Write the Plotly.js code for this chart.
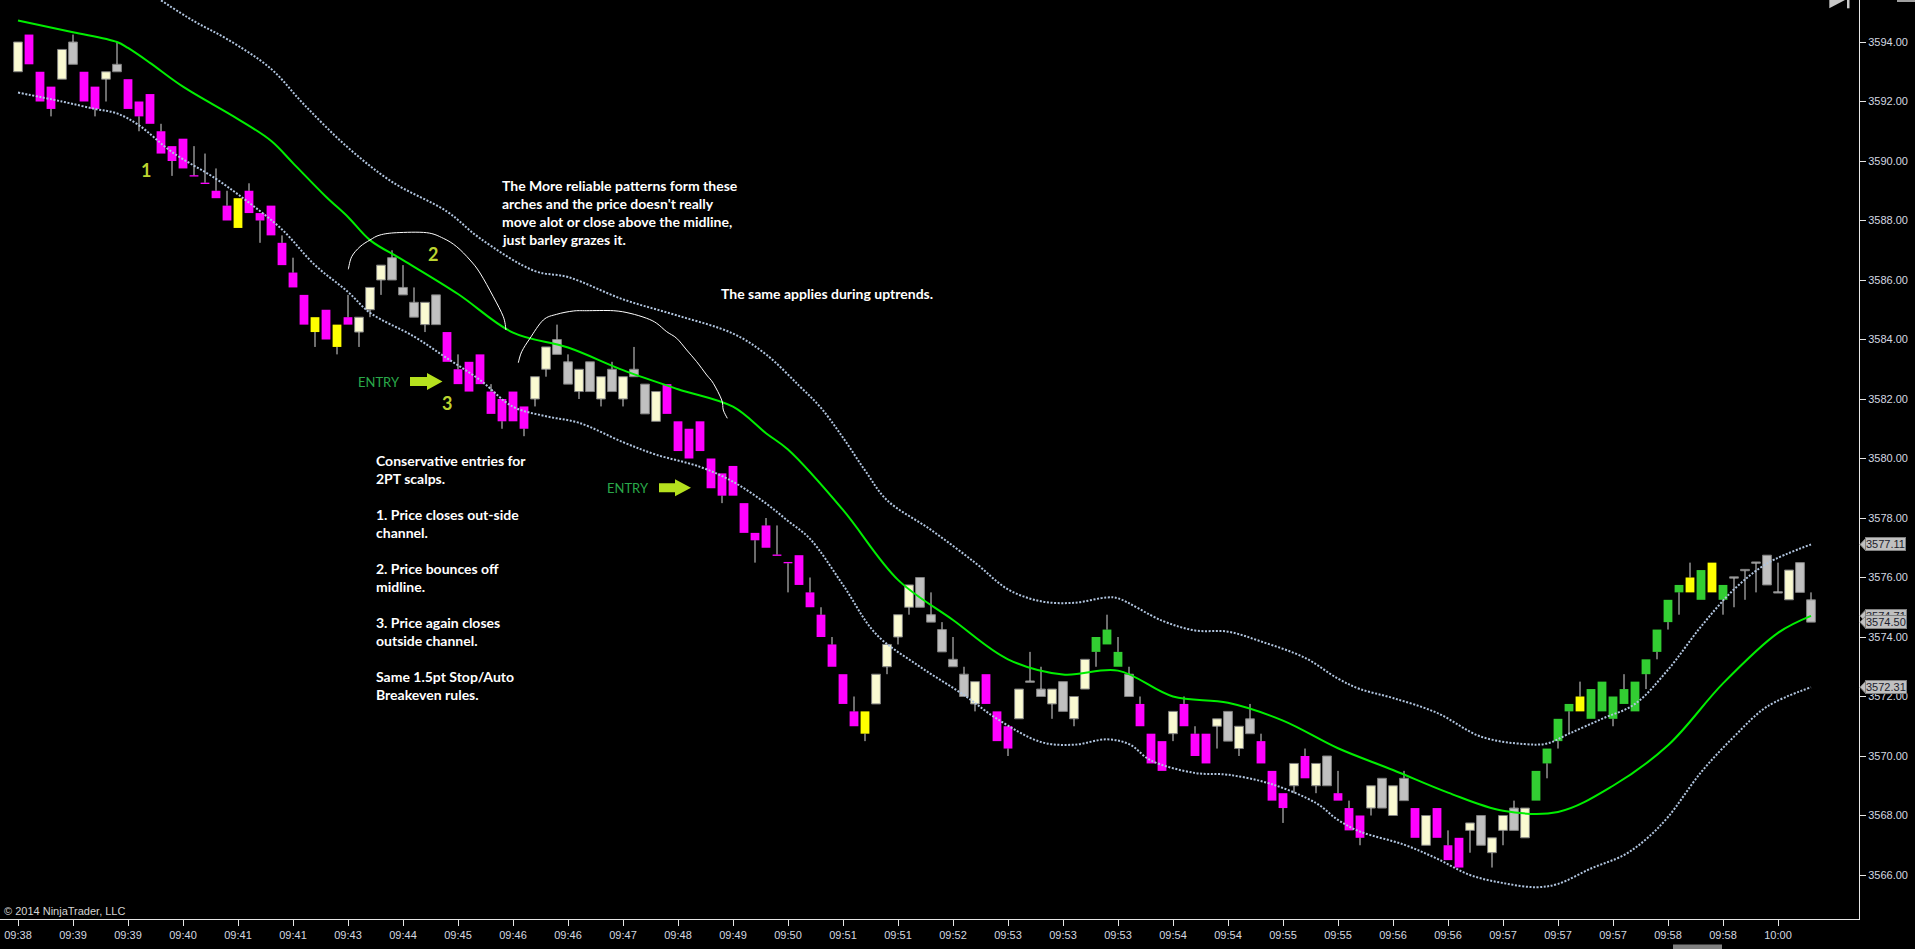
<!DOCTYPE html>
<html><head><meta charset="utf-8">
<script src="https://cdn.plot.ly/plotly-3.0.1.min.js"></script>
<style>html,body{margin:0;padding:0;background:#000;overflow:hidden}#chart{width:1915px;height:949px}</style>
</head><body><div id="chart"></div>
<script>
// ---------- DATA ----------
const open = [
3593.0,3594.25,3593.0,3592.5,3592.75,3594.0,3593.0,3592.5,3592.75,3593.25,
3592.75,3592.0,3592.25,3591.0,3590.5,3590.75,3589.5,3589.25,3589.0,3588.5,
3588.75,3589.0,3588.25,3588.5,3587.25,3586.25,3585.5,3584.75,3585.0,3584.5,
3584.75,3584.25,3585.0,3586.0,3586.75,3585.75,3585.25,3584.5,3585.5,3584.25,
3583.0,3583.25,3583.5,3582.25,3582.0,3582.25,3581.75,3582.0,3583.0,3584.0,
3583.25,3582.25,3583.25,3582.0,3583.0,3582.0,3583.0,3582.5,3581.25,3582.5,
3581.25,3581.0,3581.25,3580.0,3579.5,3579.75,3578.5,3577.5,3577.75,3576.75,
3576.5,3576.75,3575.5,3574.75,3573.75,3572.75,3571.5,3571.5,3571.75,3573.0,
3574.0,3575.0,3576.0,3574.75,3574.25,3573.25,3572.75,3571.75,3572.75,3571.5,
3571.0,3571.25,3572.5,3572.25,3571.75,3572.5,3571.25,3572.25,3573.5,3573.75,
3573.0,3572.75,3571.75,3570.75,3570.5,3570.75,3571.75,3570.75,3570.75,3571.0,
3571.5,3570.25,3571.25,3570.5,3569.5,3568.75,3569.0,3570.0,3569.0,3570.0,
3568.75,3568.25,3568.0,3568.25,3569.25,3568.0,3569.25,3568.25,3567.0,3568.25,
3567.0,3567.25,3567.5,3568.0,3566.75,3567.5,3568.25,3567.25,3568.5,3569.75,
3570.5,3571.5,3571.5,3571.25,3571.5,3571.25,3571.75,3571.5,3572.75,3573.5,
3574.5,3575.5,3575.5,3575.25,3575.5,3575.25,3576.0,3576.25,3576.5,3576.75,
3575.5,3575.25,3576.5,3575.25];
const high = [
3594.0,3594.25,3593.0,3592.5,3593.75,3594.25,3593.0,3592.5,3593.0,3594.0,
3592.75,3592.0,3592.25,3591.25,3590.5,3590.75,3590.5,3590.25,3589.75,3589.0,
3588.75,3589.25,3588.25,3588.5,3587.5,3586.75,3585.5,3584.75,3585.0,3584.5,
3585.5,3584.75,3585.75,3586.5,3587.0,3586.5,3585.75,3585.25,3585.5,3584.25,
3583.5,3583.25,3583.5,3582.5,3582.0,3582.25,3581.75,3582.75,3583.75,3584.5,
3583.5,3583.0,3583.25,3582.75,3583.25,3582.75,3583.75,3582.5,3582.25,3582.5,
3581.25,3581.0,3581.25,3580.0,3579.5,3579.75,3578.5,3577.5,3578.0,3577.75,
3576.5,3576.75,3576.0,3575.0,3574.0,3572.75,3572.0,3571.5,3572.75,3573.75,
3574.75,3575.75,3576.0,3575.5,3574.5,3574.0,3573.0,3572.5,3572.75,3571.5,
3571.0,3572.25,3573.5,3573.0,3572.25,3572.5,3572.0,3573.25,3574.0,3574.75,
3574.0,3573.0,3572.0,3570.75,3570.5,3571.5,3572.0,3571.0,3570.75,3571.25,
3571.5,3571.0,3571.75,3570.75,3569.5,3568.75,3569.75,3570.25,3569.75,3570.0,
3569.5,3568.5,3568.0,3569.0,3569.25,3569.0,3569.5,3568.25,3568.0,3568.25,
3567.5,3567.25,3567.75,3568.0,3567.25,3568.0,3568.5,3568.25,3569.5,3570.25,
3571.25,3571.75,3572.5,3572.25,3572.5,3572.0,3572.75,3572.5,3573.25,3574.25,
3575.25,3575.75,3576.5,3576.25,3576.5,3575.75,3576.0,3576.25,3576.5,3576.75,
3576.5,3576.25,3576.5,3575.5];
const low = [
3593.0,3593.25,3592.0,3591.5,3592.75,3593.25,3592.0,3591.5,3592.0,3593.0,
3591.75,3591.0,3591.25,3590.25,3589.5,3589.75,3589.5,3589.25,3588.75,3588.0,
3587.75,3588.25,3587.25,3587.5,3586.5,3585.75,3584.5,3583.75,3584.0,3583.5,
3584.5,3583.75,3584.75,3585.5,3586.0,3585.5,3584.75,3584.25,3584.5,3583.25,
3582.5,3582.25,3582.5,3581.5,3581.0,3581.25,3580.75,3581.75,3582.75,3583.5,
3582.5,3582.0,3582.25,3581.75,3582.25,3581.75,3582.75,3581.5,3581.25,3581.5,
3580.25,3580.0,3580.25,3579.0,3578.5,3578.75,3577.5,3576.5,3577.0,3576.75,
3575.5,3575.75,3575.0,3574.0,3573.0,3571.75,3571.0,3570.5,3571.75,3572.75,
3573.75,3574.75,3575.0,3574.5,3573.5,3573.0,3572.0,3571.5,3571.75,3570.5,
3570.0,3571.25,3572.5,3572.0,3571.25,3571.5,3571.0,3572.25,3573.0,3573.75,
3573.0,3572.0,3571.0,3569.75,3569.5,3570.5,3571.0,3570.0,3569.75,3570.25,
3570.5,3570.0,3570.75,3569.75,3568.5,3567.75,3568.75,3569.25,3568.75,3569.0,
3568.5,3567.5,3567.0,3568.0,3568.25,3568.0,3568.5,3567.25,3567.0,3567.25,
3566.5,3566.25,3566.75,3567.0,3566.25,3567.0,3567.5,3567.25,3568.5,3569.25,
3570.25,3570.75,3571.5,3571.25,3571.5,3571.0,3571.75,3571.5,3572.25,3573.25,
3574.25,3574.75,3575.5,3575.25,3575.5,3574.75,3575.0,3575.25,3575.5,3575.75,
3575.5,3575.25,3575.5,3574.5];
const close = [
3594.0,3593.25,3592.0,3591.75,3593.75,3593.25,3592.0,3591.75,3593.0,3593.0,
3591.75,3591.5,3591.25,3590.25,3590.0,3589.75,3589.5,3589.25,3588.75,3588.0,
3587.75,3588.25,3588.0,3587.5,3586.5,3585.75,3584.5,3584.25,3584.0,3583.75,
3584.5,3584.75,3585.75,3586.5,3586.0,3585.5,3584.75,3585.25,3584.5,3583.25,
3582.5,3582.25,3582.5,3581.5,3581.25,3581.25,3581.0,3582.75,3583.75,3583.5,
3582.5,3583.0,3582.25,3582.75,3582.25,3582.75,3582.75,3581.5,3582.25,3581.5,
3580.25,3580.0,3580.25,3579.0,3578.75,3578.75,3577.5,3577.25,3577.0,3576.75,
3576.5,3575.75,3575.0,3574.0,3573.0,3571.75,3571.0,3570.75,3572.75,3573.75,
3574.75,3575.75,3575.0,3574.5,3573.5,3573.0,3572.0,3572.5,3571.75,3570.5,
3570.25,3572.25,3572.5,3572.0,3572.25,3571.5,3572.0,3573.25,3574.0,3574.25,
3573.5,3572.0,3571.0,3569.75,3569.5,3571.5,3571.0,3570.0,3569.75,3571.25,
3570.5,3571.0,3570.75,3569.75,3568.5,3568.25,3569.75,3569.25,3569.75,3569.0,
3568.5,3567.5,3567.25,3569.0,3568.25,3569.0,3568.5,3567.25,3568.0,3567.25,
3566.5,3566.25,3567.75,3567.0,3567.25,3568.0,3567.5,3568.25,3569.5,3570.25,
3571.25,3571.75,3572.0,3572.25,3572.5,3572.0,3572.25,3572.5,3573.25,3574.25,
3575.25,3575.75,3576.0,3576.25,3576.5,3575.75,3576.0,3576.25,3576.5,3575.75,
3575.5,3576.25,3575.5,3574.5];
// bar colouring class: M magenta, C cream, G gray, Y yellow, L green
const barClass = ("CMMMCGMMCG"+"MMMMMMMMMM"+"YMMMMMMYMY"+"MCCCGGGCGM"+"MMMMMMMCCG"+
  "GCGCGCGGCM"+"MMMMMMMMMM"+"MMMMMMMYCC"+"CCGGGGGCMM"+"MCGGCGCCLL"+
  "LGMMMCMMMC"+"GCGMMMCMCG"+"MMMCGCGMCM"+"MMCGCCGCLL"+"LLYLLLLLLL"+
  "LLYLYLGGGG"+"GCGG").split("");

const midX = [0,5,9,10,12,15,20,23,25,28,30,32,35,40,45,50,55,60,65,68,70,75,80,85,90,95,100,105,110,115,120,125,130,135,140,145,150,155,160,163];
const midY = [3594.72,3594.33,3594.0,3593.8,3593.3,3592.5,3591.41,3590.68,3589.93,3588.8,3588.12,3587.34,3586.67,3585.53,3584.23,3583.73,3582.97,3582.33,3581.74,3580.85,3580.3,3578.27,3575.92,3574.57,3573.25,3572.74,3572.87,3572.0,3571.79,3571.19,3570.26,3569.53,3568.77,3568.16,3568.12,3569.0,3570.36,3572.44,3574.14,3574.71];
const upperX = [13,16,19,23,26,30,34,39,42,47,50,55,60,65,68,71,73,75,77,79,83,87,90,93,96,99,100,104,107,110,113,117,120,122,125,129,133,137,139,141,144,147,150,153,156,159,163];
const upperY = [3595.4,3594.7,3594.1,3593.1,3591.9,3590.45,3589.3,3588.3,3587.4,3586.3,3586.1,3585.35,3584.8,3584.2,3583.5,3582.45,3581.7,3580.7,3579.6,3578.6,3577.6,3576.5,3575.6,3575.2,3575.15,3575.33,3575.3,3574.55,3574.22,3574.18,3573.85,3573.3,3572.6,3572.25,3571.95,3571.45,3570.65,3570.4,3570.42,3570.75,3571.25,3571.75,3572.9,3574.35,3575.6,3576.47,3577.11];
const lowerX = [0,4,7,9,11,14,18,21,24,27,30,32,36,39,42,45,48,51,55,58,62,65,68,70,72,75,78,82,86,89,93,96,99,101,103,107,110,114,118,120,122,126,129,132,135,138,140,143,146,148,150,153,156,159,163];
const lowerY = [3592.3,3592.0,3591.75,3591.6,3591.2,3590.3,3589.4,3588.6,3587.7,3586.5,3585.6,3584.9,3584.1,3583.37,3582.64,3581.74,3581.42,3581.2,3580.55,3580.13,3579.72,3579.22,3578.49,3577.9,3577.3,3575.75,3574.1,3573.0,3572.05,3571.25,3570.47,3570.38,3570.56,3570.4,3569.85,3569.43,3569.37,3569.05,3568.42,3567.85,3567.46,3567.02,3566.55,3566.0,3565.73,3565.59,3565.7,3566.22,3566.67,3567.2,3567.95,3569.45,3570.65,3571.66,3572.31];

const timeTickIdx = [0,5,10,15,20,25,30,35,40,45,50,55,60,65,70,75,80,85,90,95,100,105,110,115,120,125,130,135,140,145,150,155,160];
const timeTickText = ["09:38","09:39","09:39","09:40","09:41","09:41","09:43","09:44","09:45","09:46","09:46","09:47","09:48","09:49","09:50","09:51","09:51","09:52","09:53","09:53","09:53","09:54","09:54","09:55","09:55","09:56","09:56","09:57","09:57","09:57","09:58","09:58","10:00"];
const priceTicks = [3566,3568,3570,3572,3574,3576,3578,3580,3582,3584,3586,3588,3590,3592,3594];

// ---------- STYLE ----------
const palette = {M:'#ff00ff', C:'#fafad2', G:'#c0c0c0', Y:'#ffff00', L:'#32cd32'};
const outlined = {C:true, G:true};
const PW = 1859, PH = 919;
const ax = px => px/PW, ay = py => 1 - py/PH;

const N = open.length;
const idx = open.map((_, i) => i);
const bodyBase = [], bodyH = [], fill = [], edge = [], edgeW = [];
const wx = [], wy = [];
for (let i = 0; i < N; i++) {
  const top = Math.max(open[i], close[i]), bot = Math.min(open[i], close[i]);
  let h = top - bot, b = bot;
  if (h < 0.01) { h = 0.045; b = top - 0.0225; }
  bodyBase.push(b); bodyH.push(h);
  const k = barClass[i];
  fill.push(palette[k]);
  edge.push(outlined[k] ? '#7f7f7f' : palette[k]);
  edgeW.push(outlined[k] ? 1 : 0);
  if (high[i] > top + 0.01) { wx.push(i, i, null); wy.push(high[i], b + h, null); }
  if (low[i] < bot - 0.01) { wx.push(i, i, null); wy.push(b, low[i], null); }
}

const traces = [
  {type:'bar', x: idx, y: bodyH, base: bodyBase, width: 0.8,
   marker:{color: fill, line:{color: edge, width: edgeW}}, hoverinfo:'skip'},
  {type:'scatter', mode:'lines', x: wx, y: wy, line:{color:'#d9d9d9', width:1}, hoverinfo:'skip', connectgaps:false},
  {type:'scatter', mode:'lines', x: upperX, y: upperY, line:{color:'#b0c4de', width:2, dash:'2px,1.6px', shape:'spline'}, hoverinfo:'skip'},
  {type:'scatter', mode:'lines', x: lowerX, y: lowerY, line:{color:'#b0c4de', width:2, dash:'2px,1.6px', shape:'spline'}, hoverinfo:'skip'},
  {type:'scatter', mode:'lines', x: midX, y: midY, line:{color:'#00ee00', width:2, shape:'spline'}, hoverinfo:'skip'}
];

// ---------- ANNOTATIONS ----------
const textFont = {family:'Lato, "Open Sans", sans-serif', size:14, color:'#ffffff', weight:700};
const ann = [];
function txt(px, py, text, font, xanchor) {
  ann.push({xref:'paper', yref:'paper', x:ax(px), y:ay(py), xanchor: xanchor || 'left', yanchor:'middle',
            text, showarrow:false, font});
}
const block1 = ["The More reliable patterns form these","arches and the price doesn't really","move alot or close above the midline,","just barley grazes it."];
block1.forEach((t, k) => txt(500, 185.7 + 18*k, t, textFont));
txt(718.5, 294, "The same applies during uptrends.", textFont);
const block2 = ["Conservative entries for","2PT scalps.","","1. Price closes out-side","channel.","","2. Price bounces off","midline.","","3. Price again closes","outside channel.","","Same 1.5pt Stop/Auto","Breakeven rules."];
block2.forEach((t, k) => { if (t) txt(373.7, 460.7 + 18*k, t, textFont); });
const numFont = {family:'Lato, sans-serif', size:18, color:'#bcd530', weight:700};
txt(146, 170, "1", numFont, 'center');
txt(432.5, 253.7, "2", numFont, 'center');
txt(446.7, 402.7, "3", numFont, 'center');
const entryFont = {family:'Lato, sans-serif', size:13, color:'#2aa84a', weight:400};
txt(379, 381.7, "ENTRY", entryFont, 'center');
txt(627.5, 487.7, "ENTRY", entryFont, 'center');
ann.push({xref:'paper', yref:'paper', x:0, y:0, xanchor:'left', yanchor:'bottom', xshift:2, yshift:0,
  text:'© 2014 NinjaTrader, LLC', showarrow:false, font:{family:'Liberation Sans, Arial, sans-serif', size:11, color:'#d4d4d4'}});

// right-hand price markers (last values of the series)
const markers = [upperY[upperY.length-1], midY[midY.length-1], close[N-1], lowerY[lowerY.length-1]];
const shapes = [];
markers.forEach(v => {
  shapes.push({type:'path', xref:'paper', xsizemode:'pixel', xanchor:1, yref:'y', ysizemode:'pixel', yanchor:v,
    path:'M 1,0 L 7,6.5 L 7,-6.5 Z', fillcolor:'#c0c0c0', line:{color:'#808080', width:1}, layer:'above'});
  ann.push({xref:'paper', yref:'y', x:1, y:v, xanchor:'left', yanchor:'middle', xshift:6,
    text:v.toFixed(2), showarrow:false, bgcolor:'#c0c0c0', bordercolor:'#808080', borderwidth:1, borderpad:0,
    font:{family:'Liberation Sans, Arial, sans-serif', size:11, color:'#1c1c2c'}});
});

// hand-drawn arrows and arches (pixel positions of the drawings)
function arrowPath(x0, xb, xt, yc, sh, hh) {
  const p = [[x0,yc-sh],[xb,yc-sh],[xb,yc-hh],[xt,yc],[xb,yc+hh],[xb,yc+sh],[x0,yc+sh]];
  return 'M ' + p.map(q => ax(q[0]) + ',' + ay(q[1])).join(' L ') + ' Z';
}
shapes.push({type:'path', xref:'paper', yref:'paper', path:arrowPath(410, 427, 442.5, 381.5, 4.5, 8.5), fillcolor:'#b5e11e', line:{width:0}, layer:'above'});
shapes.push({type:'path', xref:'paper', yref:'paper', path:arrowPath(659, 675, 691, 487.7, 4.5, 8.5), fillcolor:'#b5e11e', line:{width:0}, layer:'above'});
function smoothPath(pts) {
  const P = pts.map(p => [ax(p[0]), ay(p[1])]);
  let d = 'M ' + P[0][0] + ',' + P[0][1];
  for (let i = 0; i < P.length - 1; i++) {
    const p0 = P[Math.max(i-1,0)], p1 = P[i], p2 = P[i+1], p3 = P[Math.min(i+2, P.length-1)];
    const c1 = [p1[0] + (p2[0]-p0[0])/6, p1[1] + (p2[1]-p0[1])/6];
    const c2 = [p2[0] - (p3[0]-p1[0])/6, p2[1] - (p3[1]-p1[1])/6];
    d += ' C ' + c1.join(',') + ' ' + c2.join(',') + ' ' + p2.join(',');
  }
  return d;
}
const arch1 = [[348.3,269.3],[351.7,256.7],[360,246.7],[370,240],[380,235],[396.7,232.7],[426.7,232.7],[443.3,238.3],[456.7,246.7],[470,260],[480,273],[493.3,296.7],[503.3,316.7],[506,330]];
const arch2 = [[518.3,362.7],[521.7,351.7],[530,338.3],[543.3,320],[556.7,314.3],[573.3,311],[586.7,310.7],[613.3,310.7],[630,313.3],[646.7,318.3],[656.7,323.3],[666.7,331.7],[676.7,338.3],[686.7,350],[696.7,361.7],[706.7,375],[713.3,383.3],[721.7,400],[723.3,410],[727.3,418.3]];
[arch1, arch2].forEach(a => shapes.push({type:'path', xref:'paper', yref:'paper', path:smoothPath(a), line:{color:'#ffffff', width:1}, layer:'above'}));

// top-right "go to end" glyph and scroll thumb
shapes.push({type:'path', xref:'paper', yref:'paper', path:'M '+ax(1829.3)+','+ay(0)+' L '+ax(1845)+','+ay(0)+' L '+ax(1829.3)+','+ay(8.3)+' Z', fillcolor:'#c8c8c8', line:{width:0}, layer:'above'});
shapes.push({type:'rect', xref:'paper', yref:'paper', x0:ax(1847), x1:ax(1849.5), y0:ay(0), y1:ay(8.3), fillcolor:'#c8c8c8', line:{width:0}, layer:'above'});
shapes.push({type:'rect', xref:'paper', yref:'paper', x0:ax(1897), x1:ax(1915), y0:ay(0), y1:ay(2), fillcolor:'#a0a0a0', line:{width:0}, layer:'above'});
shapes.push({type:'rect', xref:'paper', yref:'paper', x0:ax(1673), x1:ax(1722), y0:ay(944.5), y1:ay(949), fillcolor:'#808080', line:{width:0}, layer:'above'});

const axisFont = {family:'Liberation Sans, Arial, sans-serif', size:11, color:'#d4d8e0'};
const layout = {
  width:1915, height:949,
  margin:{l:0, r:56, t:0, b:30, pad:0},
  paper_bgcolor:'#000000', plot_bgcolor:'#000000',
  showlegend:false, hovermode:false,
  xaxis:{range:[-18/11, (PW-18)/11], showgrid:false, zeroline:false, showline:true, linecolor:'#e6e6e6', linewidth:1,
         ticks:'outside', ticklen:6, tickcolor:'#e6e6e6', tickwidth:1,
         tickmode:'array', tickvals:timeTickIdx, ticktext:timeTickText, tickfont:axisFont, fixedrange:true},
  yaxis:{range:[3594 - 877/29.75, 3594 + 42/29.75], side:'right', showgrid:false, zeroline:false, showline:true,
         linecolor:'#e6e6e6', linewidth:1, ticks:'outside', ticklen:6, tickcolor:'#e6e6e6', tickwidth:1,
         tickmode:'array', tickvals:priceTicks, ticktext:priceTicks.map(v => v.toFixed(2)), tickfont:axisFont, fixedrange:true},
  annotations: ann,
  shapes: shapes
};
Plotly.newPlot('chart', traces, layout, {staticPlot:true, displayModeBar:false});
</script>
</body></html>
